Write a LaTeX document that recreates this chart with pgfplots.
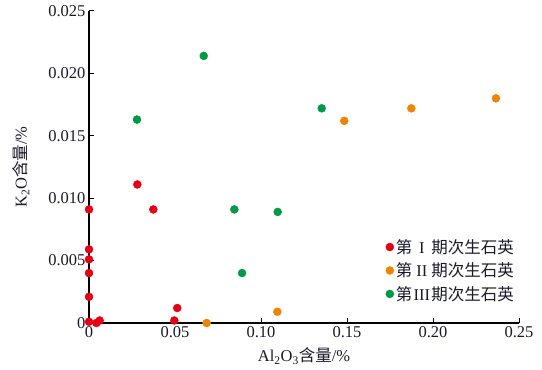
\documentclass[border=0pt]{standalone}
\usepackage{fontspec}
\setmainfont{Liberation Serif}
\newfontfamily\cjk{Noto Sans CJK SC}
\usepackage{pgfplots}
\pgfplotsset{compat=1.18}
\definecolor{cI}{HTML}{E60012}
\definecolor{cII}{HTML}{F08300}
\definecolor{cIII}{HTML}{009944}
\definecolor{txt}{HTML}{1A1A2A}
\newcommand{\rn}[1]{\makebox[1.15em][c]{#1}}
\begin{document}
\begin{tikzpicture}
\begin{axis}[
  name=ax,
  scale only axis, width=430pt, height=312pt,
  xmin=0, xmax=0.25, ymin=0, ymax=0.025,
  axis lines*=left,
  axis line style={line width=1.5pt, black},
  tick align=inside, major tick length=5pt,
  tick style={line width=1pt, black},
  scaled x ticks=false, scaled y ticks=false,
  xtick={0,0.05,0.10,0.15,0.20,0.25},
  xticklabels={0,0.05,0.10,0.15,0.20,0.25},
  ytick={0,0.005,0.010,0.015,0.020,0.025},
  yticklabels={0,0.005,0.010,0.015,0.020,0.025},
  font=\fontsize{16.5}{19}\selectfont,
  tick label style={text=txt},
  xlabel={Al\textsubscript{2}O\textsubscript{3}{\cjk 含量}/\%},
  ylabel={K\textsubscript{2}O{\cjk 含量}/\%},
  xlabel style={at={(axis description cs:0.5,0)}, anchor=center, yshift=-33pt, text=txt},
  ylabel style={at={(axis description cs:0,0.5)}, anchor=center, yshift=68pt, text=txt},
  clip=false,
  legend style={draw=none, fill=none, at={(1.0,0.055)}, anchor=south east,
    row sep=4pt, font=\fontsize{16.5}{19}\selectfont, text=txt,
    nodes={inner xsep=2pt}},
  legend cell align=left,
]
\addplot[only marks, mark=*, mark size=4pt, color=cI] coordinates {
 (0,0.0091) (0,0.0059) (0,0.0051) (0,0.0040) (0,0.0021) (0,0.0001)
 (0.0043,0.0000) (0.0062,0.0002) (0.0281,0.0111) (0.0374,0.0091)
 (0.0496,0.0002) (0.0513,0.0012)
};
\addlegendentry{{\cjk 第}\rn{I}{\cjk 期次生石英}}
\addplot[only marks, mark=*, mark size=4pt, color=cII] coordinates {
 (0.0684,0.0000) (0.1095,0.0009) (0.1484,0.0162) (0.1874,0.0172) (0.2366,0.0180)
};
\addlegendentry{{\cjk 第}\rn{II}{\cjk 期次生石英}}
\addplot[only marks, mark=*, mark size=4pt, color=cIII] coordinates {
 (0.0279,0.0163) (0.0667,0.0214) (0.1353,0.0172) (0.0845,0.0091)
 (0.1097,0.0089) (0.0890,0.0040)
};
\addlegendentry{{\cjk 第}\rn{III}{\cjk 期次生石英}}
\end{axis}
\path[use as bounding box] ([shift={(-89pt,-47pt)}]ax.south west) rectangle ([shift={(23pt,11pt)}]ax.north east);
\end{tikzpicture}
\end{document}
